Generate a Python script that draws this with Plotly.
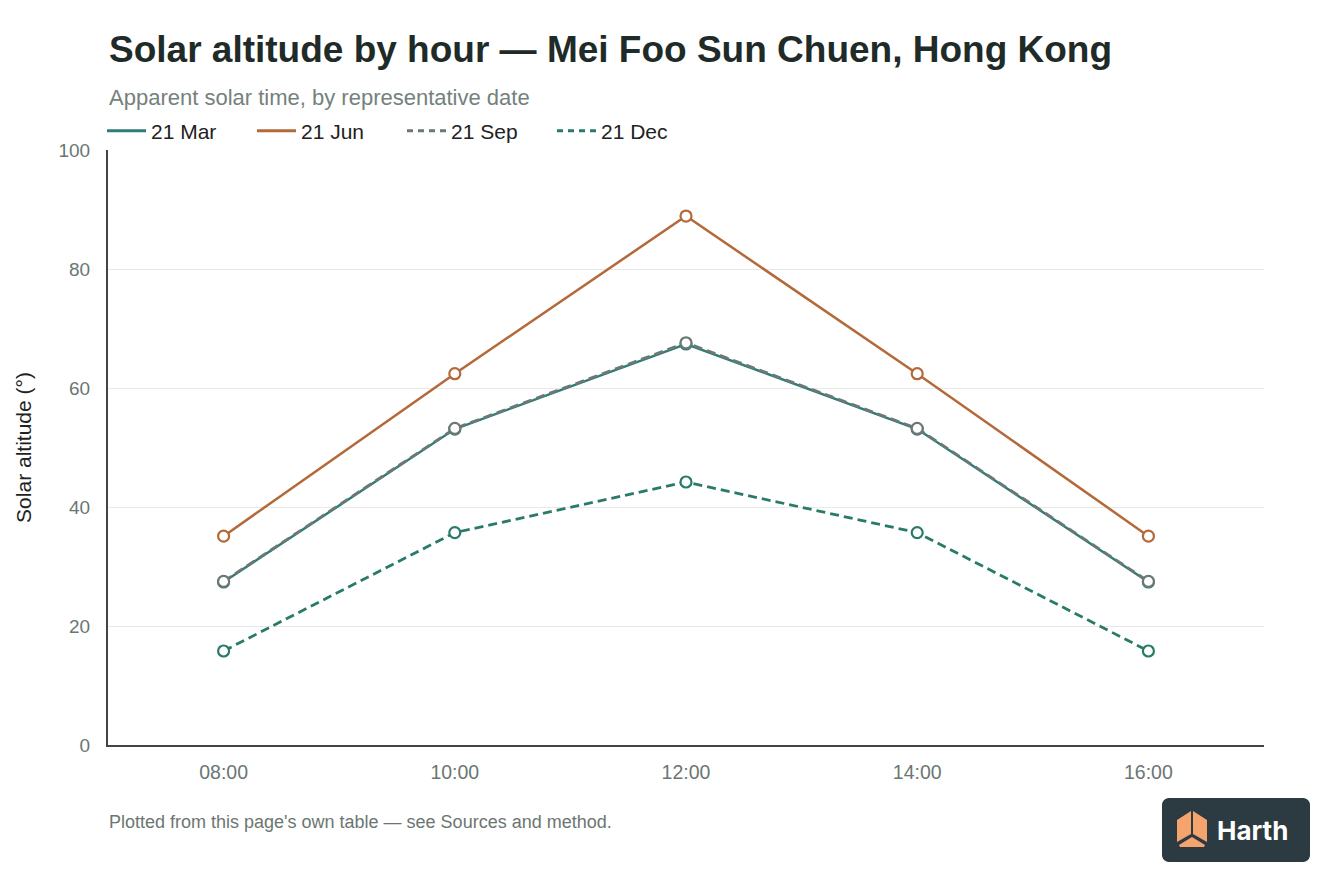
import math
import plotly.graph_objects as go

# hours in apparent solar time
hours = ["08:00", "10:00", "12:00", "14:00", "16:00"]

# solar altitude in degrees
alt_mar = [27.4, 53.1, 67.4, 53.1, 27.4]
alt_jun = [35.1, 62.4, 88.9, 62.4, 35.1]
alt_sep = [27.5, 53.2, 67.6, 53.2, 27.5]
alt_dec = [15.8, 35.7, 44.2, 35.7, 15.8]

y_ticks = [0, 20, 40, 60, 80, 100]

FONT = "Liberation Sans, Arial, Helvetica, sans-serif"
INK = "#1f2b28"
MUTED = "#6b7672"
DASH = "9px,5px"

series = [
    ("21 Mar", alt_mar, "#2f7d77", "solid"),
    ("21 Jun", alt_jun, "#b4693a", "solid"),
    ("21 Sep", alt_sep, "#6c7875", DASH),
    ("21 Dec", alt_dec, "#2a7a6a", DASH),
]

# page is drawn 8px in from the window edge
W, H = 1336, 888
pl, pr, pt, pb = 100, 80, 142, 151
pw, ph = W - pl - pr, H - pt - pb


def to_paper(x, y):
    # page pixels (window coords) -> paper coords
    return (x - 8 - pl) / pw, 1 - (y - 8 - pt) / ph


fig = go.Figure()
for nome, valores, cor, traco in series:
    fig.add_trace(go.Scatter(
        x=hours, y=valores, name=nome, mode="lines+markers", showlegend=False,
        line=dict(color=cor, width=2.8 if traco == DASH else 2.5, dash=traco),
        marker=dict(symbol="circle", size=11, color="white",
                    line=dict(color=cor, width=2.2)),
    ))
# legend shows only line samples
for nome, valores, cor, traco in series:
    fig.add_trace(go.Scatter(
        x=[None], y=[None], name=nome, mode="lines",
        line=dict(color=cor, width=3, dash="6px,5px" if traco == DASH else traco),
    ))

lx, ly = to_paper(102, 131)
fig.update_layout(
    width=W, height=H,
    paper_bgcolor="white", plot_bgcolor="white",
    margin=dict(l=pl, r=pr, t=pt, b=pb),
    font=dict(family=FONT, size=19, color=INK),
    legend=dict(
        orientation="h", x=lx, xanchor="left", y=ly, yanchor="middle",
        entrywidth=96, entrywidthmode="pixels",
        font=dict(family=FONT, size=21, color="#222"),
        itemwidth=39, traceorder="normal",
        bgcolor="rgba(0,0,0,0)",
    ),
    showlegend=True,
)

fig.update_xaxes(
    type="category", categoryorder="array", categoryarray=hours, range=[-0.5, 4.5],
    showgrid=False, showline=True, linecolor="#444", linewidth=2,
    ticks="", tickfont=dict(size=19.5, color=MUTED), ticklabelstandoff=9,
)
fig.update_yaxes(
    range=[0, 100], tickvals=y_ticks,
    showgrid=True, gridcolor="#e8e8e8", gridwidth=1,
    showline=True, linecolor="#444", linewidth=2, zeroline=False,
    ticks="", tickfont=dict(size=19, color=MUTED), ticklabelstandoff=12,
    title=dict(text="Solar altitude (°)", font=dict(size=21, color="#222"), standoff=21),
)

# title and subtitle
tx, ty = to_paper(107, 50)
fig.add_annotation(
    text="<b>Solar altitude by hour — Mei Foo Sun Chuen, Hong Kong</b>",
    xref="paper", yref="paper", x=tx, y=ty, xanchor="left", yanchor="middle",
    showarrow=False, font=dict(family=FONT, size=37, color=INK),
)
sx, sy = to_paper(107, 97)
fig.add_annotation(
    text="Apparent solar time, by representative date",
    xref="paper", yref="paper", x=sx, y=sy, xanchor="left", yanchor="middle",
    showarrow=False, font=dict(family=FONT, size=22, color="#75817d"),
)

# footer
fx, fy = to_paper(107, 822)
fig.add_annotation(
    text="Plotted from this page's own table — see Sources and method.",
    xref="paper", yref="paper", x=fx, y=fy,
    xanchor="left", yanchor="middle", showarrow=False,
    font=dict(family=FONT, size=18, color=MUTED),
)


# Harth badge
def path_px(pts):
    segs = []
    for i, (x, y) in enumerate(pts):
        u, v = to_paper(x, y)
        segs.append(("M" if i == 0 else "L") + f" {u:.5f},{v:.5f}")
    return " ".join(segs) + " Z"


bx0, by0, bx1, by1, r = 1162, 798, 1310, 862, 7
rr = []
for cx, cy, a0 in [(bx1 - r, by0 + r, -90), (bx1 - r, by1 - r, 0),
                   (bx0 + r, by1 - r, 90), (bx0 + r, by0 + r, 180)]:
    for k in range(7):
        a = math.radians(a0 + k * 15)
        rr.append((cx + r * math.cos(a), cy + r * math.sin(a)))
fig.add_shape(type="path", xref="paper", yref="paper", path=path_px(rr),
              fillcolor="#2c3a41", line=dict(width=0), layer="above")

orange = "#f4a46c"
fig.add_shape(type="path", xref="paper", yref="paper",
              path=path_px([(1177, 820), (1191, 811), (1191, 834), (1177, 842)]),
              fillcolor=orange, line=dict(width=0), layer="above")
fig.add_shape(type="path", xref="paper", yref="paper",
              path=path_px([(1193, 811), (1207, 820), (1207, 842), (1193, 834)]),
              fillcolor=orange, line=dict(width=0), layer="above")
fig.add_shape(type="path", xref="paper", yref="paper",
              path=path_px([(1179, 845), (1192, 837), (1205, 845), (1204, 847), (1180, 847)]),
              fillcolor=orange, line=dict(width=0), layer="above")

hx, hy = to_paper(1215, 830)
fig.add_annotation(text="<b>Harth</b>", xref="paper", yref="paper",
                   x=hx, y=hy, xanchor="left", yanchor="middle", showarrow=False,
                   font=dict(family="Inter, Liberation Sans, sans-serif", size=26, color="white"))

fig.write_html("out.html")
